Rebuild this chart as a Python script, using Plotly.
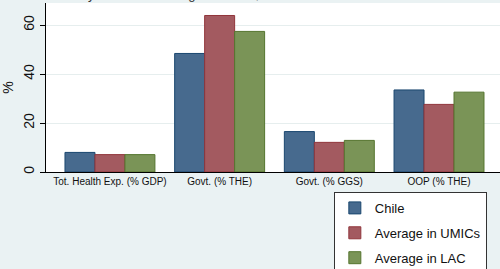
import plotly.graph_objects as go

categories = ["Tot. Health Exp. (% GDP)", "Govt. (% THE)", "Govt. (% GGS)", "OOP (% THE)"]
chile = [8.0, 48.4, 16.5, 33.5]
umics = [7.1, 63.9, 12.1, 27.6]
lac = [7.1, 57.4, 12.9, 32.6]
series_names = ["Chile", "Average in UMICs", "Average in LAC"]
y_ticks = [0, 20, 40, 60]

fills = ["#476a8e", "#a35a60", "#7a9457"]
edges = ["#1a476f", "#90353b", "#55752f"]

fig = go.Figure()
for i, (name, vals) in enumerate(zip(series_names, [chile, umics, lac])):
    fig.add_trace(go.Bar(
        x=categories, y=vals, name=name, legendgroup=name,
        marker=dict(color=fills[i], line=dict(color=edges[i], width=1)),
    ))

fig.update_layout(
    width=500, height=269,
    paper_bgcolor="#eaf2f3", plot_bgcolor="white",
    margin=dict(l=46, r=0, t=3, b=97, autoexpand=False),
    barmode="group", bargap=0.18, bargroupgap=0,
    font=dict(family="Liberation Sans, Arial, sans-serif", color="#111"),
    showlegend=True,
    legend=dict(
        x=0.634, y=-0.118, xanchor="left", yanchor="top",
        bgcolor="white", bordercolor="#333", borderwidth=1,
        font=dict(size=13, color="#111"),
        traceorder="grouped", tracegroupgap=5,
    ),
    annotations=[dict(
        text="Key Health Financing Indicators, 2010",
        x=0.3, y=1, xref="paper", yref="paper",
        xanchor="center", yanchor="bottom", yshift=-1,
        showarrow=False, font=dict(size=13, color="#333"),
    )],
)
fig.update_xaxes(
    range=[-0.583, 3.556], showline=True, linecolor="black", linewidth=1,
    ticks="", tickfont=dict(size=10), showgrid=False,
)
fig.update_yaxes(
    range=[0, 69], tickvals=y_ticks, showline=True, linecolor="black", linewidth=1,
    ticks="outside", ticklen=5, tickcolor="black", tickangle=-90,
    tickfont=dict(size=14), showgrid=True, gridcolor="#e6eeee", zeroline=False,
    title=dict(text="%", font=dict(size=14), standoff=4),
)
fig.write_html(
    "out.html",
    config={"displayModeBar": False},
    post_script="document.body.style.margin='0';document.body.style.overflow='hidden';",
)
